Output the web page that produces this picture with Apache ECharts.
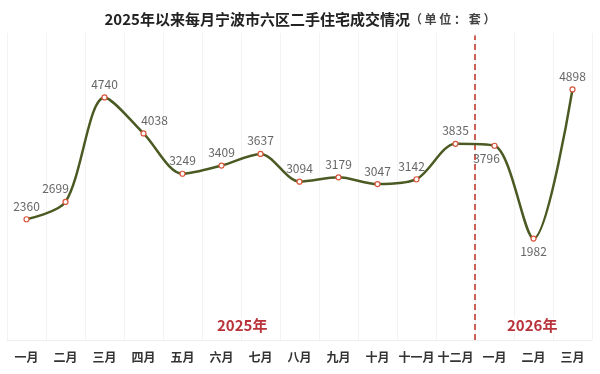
<!DOCTYPE html>
<html><head><meta charset="utf-8">
<script src="https://cdn.jsdelivr.net/npm/echarts@6/dist/echarts.min.js"></script>
<style>html,body{margin:0;padding:0;background:#fff}#c{width:600px;height:374px}</style>
</head><body><div id="c"></div>
<script>
const categories = ['一月','二月','三月','四月','五月','六月','七月','八月','九月','十月','十一月','十二月','一月','二月','三月'];
const values = [2360,2699,4740,4038,3249,3409,3637,3094,3179,3047,3142,3835,3796,1982,4898];
const labelBelow = [false,false,false,false,false,false,false,false,false,false,false,false,true,true,false];
const yearLabels = ['2025年','2026年'];
const dividerX = 12;

const labelShift = {1:[-10,0],3:[11,0],10:[-5,0],12:[-8,0]};
const chart = echarts.init(document.getElementById('c'));
const font = '"Noto Sans CJK SC","Noto Sans",sans-serif';
chart.setOption({
  animation:false,
  backgroundColor:'#fff',
  title:{
    text:'{b|2025年以来每月宁波市六区二手住宅成交情况}{s|（ 单 位 ： 套 ）}',
    left:'center', top:7,
    textStyle:{rich:{
      b:{fontSize:15,fontWeight:'bold',color:'#222',fontFamily:font},
      s:{fontSize:12,color:'#444',fontFamily:font}
    }}
  },
  grid:{left:7,right:8,top:33,bottom:34},
  xAxis:[{
    type:'category', data:categories, boundaryGap:true,
    axisLine:{lineStyle:{color:'#eeeeee'}},
    axisTick:{show:false},
    splitLine:{show:true,lineStyle:{color:'#f3f3f3'}},
    axisLabel:{color:'#333',fontWeight:'bold',fontSize:12,fontFamily:font,margin:11,interval:0}
  },{
    type:'value', min:0, max:15, show:false
  }],
  yAxis:{type:'value',min:0,max:6000,show:false},
  graphic:[
    {type:'text',left:217,top:318,z:100,style:{text:yearLabels[0],fill:'#b8333a',font:'bold 15px '+font,backgroundColor:'#fff'}},
    {type:'text',left:507,top:318,z:100,style:{text:yearLabels[1],fill:'#b8333a',font:'bold 15px '+font,backgroundColor:'#fff'}}
  ],
  series:[{
    type:'line', data:values.map((v,i)=>({value:v,label:{position:labelBelow[i]?'bottom':'top',offset:labelShift[i]||[0,0]}})),
    smooth:0.3,
    lineStyle:{color:'#4b5a22',width:2.5},
    symbol:'circle', symbolSize:5,
    itemStyle:{color:'#fff',borderColor:'#d9543a',borderWidth:1.2},
    label:{show:true,color:'#666',fontSize:12,fontFamily:font,distance:4},
    z:3
  },{
    type:'line', xAxisIndex:1,
    data:[[dividerX,0],[dividerX,5950]],
    symbol:'none',
    lineStyle:{color:'#c0392b',width:1.6,type:[6,4]},
    z:2
  }]
});
</script></body></html>
